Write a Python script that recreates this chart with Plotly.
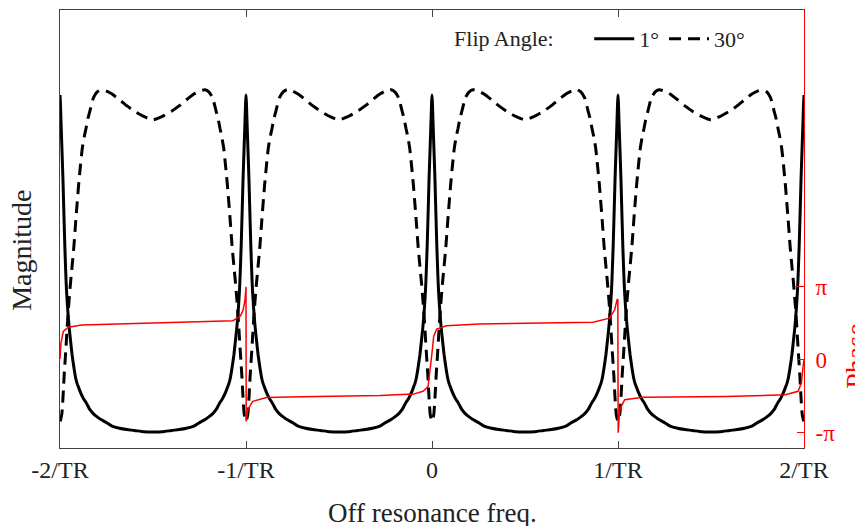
import plotly.graph_objects as go

# ---- data (x in units of 1/TR) ----
# magnitude profile over a half period, measured as distance from the nearest on-resonance peak
offsets = [0.000, 0.002, 0.004, 0.007, 0.010, 0.013, 0.016, 0.019, 0.022, 0.026,
           0.031, 0.035, 0.040, 0.045, 0.050, 0.058, 0.065, 0.075, 0.085, 0.092,
           0.100, 0.110, 0.120, 0.130, 0.140, 0.150, 0.160, 0.180, 0.200, 0.220,
           0.250, 0.280, 0.320, 0.360, 0.400, 0.450, 0.500]
mag_1deg = [0.806, 0.790, 0.765, 0.725, 0.688, 0.650, 0.612, 0.565, 0.520, 0.460,
            0.400, 0.360, 0.325, 0.296, 0.272, 0.240, 0.213, 0.183, 0.158, 0.147,
            0.138, 0.127, 0.118, 0.110, 0.104, 0.096, 0.088, 0.078, 0.071, 0.065,
            0.058, 0.050, 0.045, 0.042, 0.040, 0.037, 0.0365]
mag_30deg = [0.061, 0.063, 0.066, 0.071, 0.078, 0.095, 0.115, 0.138, 0.163, 0.190,
             0.222, 0.250, 0.285, 0.316, 0.344, 0.384, 0.415, 0.462, 0.520, 0.558,
             0.600, 0.645, 0.685, 0.710, 0.730, 0.752, 0.768, 0.800, 0.813, 0.818,
             0.815, 0.808, 0.795, 0.781, 0.769, 0.757, 0.749]
periods = [-2, -1, 0, 1]

phase_x = [-2.000, -1.995, -1.982, -1.955, -1.883, -1.700, -1.500, -1.200, -1.070, -1.030,
           -1.015, -1.005, -1.000, -0.999, -0.991, -0.964, -0.890, -0.700, -0.500, -0.280,
           -0.100, -0.048, -0.021, -0.009, 0.000, 0.009, 0.025, 0.077, 0.256, 0.500,
           0.790, 0.866, 0.955, 0.982, 0.995, 0.999, 1.001, 1.009, 1.036, 1.134,
           1.580, 1.900, 1.968, 1.986, 1.995, 2.000]
phase_y = [0.03, 0.72, 1.22, 1.40, 1.50, 1.54, 1.57, 1.62, 1.68, 1.88,
           2.15, 2.60, 3.14, -2.65, -2.15, -1.79, -1.63, -1.59, -1.57, -1.54,
           -1.48, -1.36, -1.15, -0.43, 0.29, 1.00, 1.32, 1.46, 1.54, 1.57,
           1.61, 1.62, 1.79, 2.15, 2.58, 2.62, -3.14, -2.15, -1.72, -1.61,
           -1.58, -1.51, -1.36, -1.00, -0.29, 0.00]

tick_vals = [-2, -1, 0, 1, 2]
tick_text = ["-2/TR", "-1/TR", "0", "1/TR", "2/TR"]
phase_ticks = [-3.14159265, 0.0, 3.14159265]
phase_text = ["-π", "0", "π"]

# ---- assemble the periodic magnitude profile ----
x_mag, y_1, y_30 = [], [], []
for p in periods:
    for d, a, b in zip(offsets, mag_1deg, mag_30deg):
        x_mag.append(p + d); y_1.append(a); y_30.append(b)
    for d, a, b in reversed(list(zip(offsets[1:-1], mag_1deg[1:-1], mag_30deg[1:-1]))):
        x_mag.append(p + 1 - d); y_1.append(a); y_30.append(b)
x_mag.append(2.0); y_1.append(mag_1deg[0]); y_30.append(mag_30deg[0])

FONT = "Liberation Serif"
GRAY = "#444444"
TXT = "#222222"
RED = "#ff0000"
NB = "\u00a0"

fig = go.Figure()
fig.add_trace(go.Scatter(x=x_mag, y=y_1, mode="lines", name="1°",
                         line=dict(color="black", width=3, shape="spline", smoothing=0.5)))
fig.add_trace(go.Scatter(x=x_mag, y=y_30, mode="lines", name="30°",
                         line=dict(color="black", width=3, dash="12px,7px",
                                   shape="spline", smoothing=0.5)))
fig.add_trace(go.Scatter(x=phase_x, y=phase_y, mode="lines", yaxis="y2",
                         showlegend=False, line=dict(color=RED, width=1.5)))

# the page body adds an 8px offset, so the figure is 8px smaller and shifted back
fig.update_layout(
    width=855, height=518,
    margin=dict(l=52, r=59, t=2, b=78),
    paper_bgcolor="white", plot_bgcolor="white",
    font=dict(family=FONT, size=22, color=TXT),
    showlegend=True,
    legend=dict(orientation="h", x=0.527, y=0.982, xanchor="left", yanchor="top",
                title=dict(text="Flip Angle:" + NB * 5, side="left", font=dict(size=22)),
                font=dict(size=22, family=FONT), bgcolor="rgba(0,0,0,0)",
                itemwidth=40, tracegroupgap=0),
    xaxis=dict(range=[-2, 2], tickvals=tick_vals, ticktext=tick_text,
               ticks="inside", ticklen=7, tickcolor=GRAY, showline=True,
               linecolor=GRAY, linewidth=1, mirror="ticks", showgrid=False,
               zeroline=False, tickfont=dict(size=24, family=FONT, color=TXT),
               ticklabelstandoff=0),
    yaxis=dict(range=[0, 1], showticklabels=False, ticks="", showline=True,
               linecolor=GRAY, linewidth=1, showgrid=False, zeroline=False),
    yaxis2=dict(overlaying="y", side="right", range=[-3.80, 15.06],
                tickvals=phase_ticks, ticktext=phase_text, ticks="inside",
                ticklen=7, tickcolor=RED, showline=True, linecolor=RED,
                linewidth=1, showgrid=False, zeroline=False,
                tickfont=dict(size=23, family=FONT, color=RED),
                ticklabelstandoff=6),
    annotations=[
        dict(text="Off resonance freq.", xref="paper", yref="paper", x=0.5,
             y=-0.1476, xanchor="center", yanchor="middle", showarrow=False,
             font=dict(size=27, family=FONT, color=TXT)),
        dict(text="Magnitude", xref="paper", yref="paper", x=-0.0511, y=0.4524,
             xanchor="center", yanchor="middle", textangle=-90, showarrow=False,
             font=dict(size=28, family=FONT, color=TXT)),
        dict(text="Phase", xref="paper", yref="paper", x=1.0699, y=0.2083,
             xanchor="center", yanchor="middle", textangle=-90, showarrow=False,
             font=dict(size=28, family=FONT, color=RED)),
    ],
)

fig.write_html("out.html")
